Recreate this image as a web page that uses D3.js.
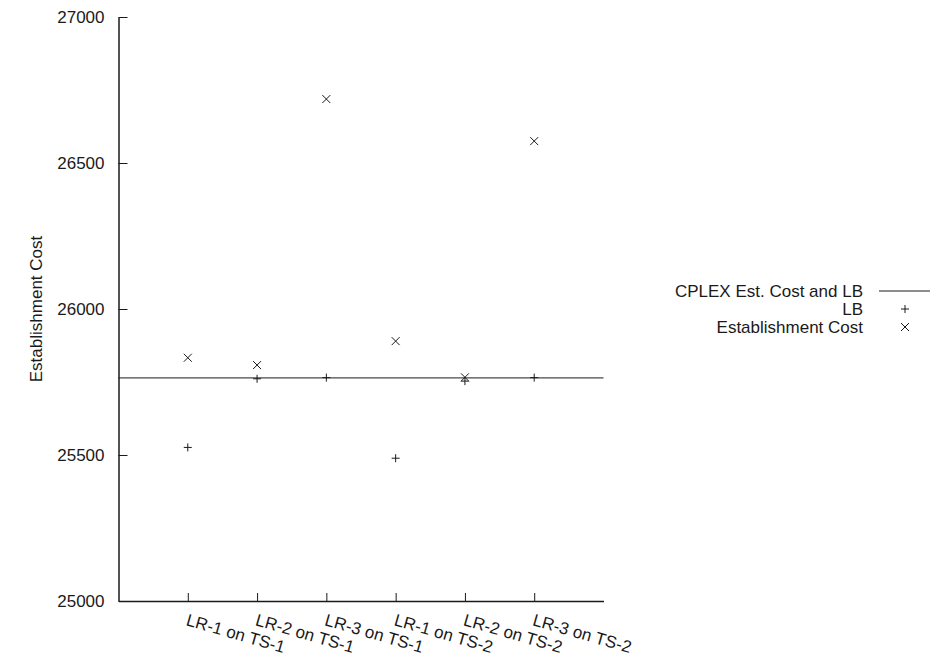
<!DOCTYPE html>
<html>
<head>
<meta charset="utf-8">
<script src="https://cdn.jsdelivr.net/npm/d3@7"></script>
<style>
  html, body { margin: 0; padding: 0; background: #fff; }
  svg { display: block; font-family: "Liberation Sans", Arial, Helvetica, sans-serif; }
</style>
</head>
<body>
<svg id="chart" width="932" height="662"></svg>
<script>
// Runs compared: each heuristic (LR-1..3) on each test set (TS-1, TS-2)
const categories = ["LR-1 on TS-1", "LR-2 on TS-1", "LR-3 on TS-1",
                    "LR-1 on TS-2", "LR-2 on TS-2", "LR-3 on TS-2"];
const lowerBound = [25526, 25761, 25765, 25489, 25753, 25765];
const establishmentCost = [25833, 25808, 26719, 25890, 25766, 26575];
const cplexCost = 25764;
const yTicks = [25000, 25500, 26000, 26500, 27000];
const legendLabels = ["CPLEX Est. Cost and LB", "LB", "Establishment Cost"];

const svg = d3.select("#chart");
const plotLeft = 118.5, plotRight = 603.5, plotTop = 17, plotBottom = 601;
const ink = "#1a1a1a";
const fontSize = 17;

const x = d3.scaleLinear().domain([0, categories.length + 1]).range([plotLeft, plotRight]);
const y = d3.scaleLinear().domain([25000, 27000]).range([plotBottom, plotTop]);

// Y axis: ticks point inward
const yAxis = svg.append("g").attr("transform", `translate(${plotLeft},0)`)
  .call(d3.axisLeft(y).tickValues(yTicks).tickSize(-9).tickSizeOuter(0).tickPadding(14).tickFormat(d3.format("d")));
yAxis.select(".domain").attr("stroke", ink).attr("stroke-width", 1.5);
yAxis.selectAll(".tick line").attr("stroke", ink);
yAxis.selectAll(".tick text").attr("font-size", fontSize).attr("fill", ink)
  .attr("font-family", "'Liberation Sans', Arial, sans-serif");

// X axis with slanted category labels
const xAxis = svg.append("g").attr("transform", `translate(0,${plotBottom})`)
  .call(d3.axisBottom(x).tickValues(d3.range(1, categories.length + 1))
    .tickSize(-8).tickSizeOuter(0).tickFormat(i => categories[i - 1]));
xAxis.select(".domain").attr("stroke", ink).attr("stroke-width", 1.5);
xAxis.selectAll(".tick line").attr("stroke", ink);
xAxis.selectAll(".tick text")
  .attr("font-size", fontSize).attr("fill", ink)
  .attr("font-family", "'Liberation Sans', Arial, sans-serif")
  .attr("text-anchor", "start")
  .attr("dy", null)
  .attr("y", 0)
  .attr("transform", "translate(-3,24) rotate(16)");

// Y axis title
svg.append("text")
  .attr("transform", `translate(42,${y(26000)}) rotate(-90)`)
  .attr("text-anchor", "middle")
  .attr("font-size", fontSize).attr("fill", ink)
  .text("Establishment Cost");

// CPLEX reference line
svg.append("line")
  .attr("x1", plotLeft).attr("x2", plotRight)
  .attr("y1", y(cplexCost)).attr("y2", y(cplexCost))
  .attr("stroke", ink).attr("stroke-width", 1);

const s = 4;
function plus(g, cx, cy) {
  g.append("path").attr("d", `M${cx - s},${cy}H${cx + s}M${cx},${cy - s}V${cy + s}`)
    .attr("stroke", ink).attr("stroke-width", 1).attr("fill", "none");
}
function cross(g, cx, cy) {
  g.append("path").attr("d", `M${cx - s},${cy - s}L${cx + s},${cy + s}M${cx - s},${cy + s}L${cx + s},${cy - s}`)
    .attr("stroke", ink).attr("stroke-width", 1).attr("fill", "none");
}

const marks = svg.append("g");
lowerBound.forEach((v, i) => plus(marks, x(i + 1), y(v)));
establishmentCost.forEach((v, i) => cross(marks, x(i + 1), y(v)));

// Legend
const lg = svg.append("g");
const lgTextX = 863, lgSymX = 905, lgY0 = 291, lgStep = 18;
legendLabels.forEach((t, i) => {
  lg.append("text").attr("x", lgTextX).attr("y", lgY0 + i * lgStep)
    .attr("dy", "0.35em").attr("text-anchor", "end")
    .attr("font-size", fontSize).attr("fill", ink).text(t);
});
lg.append("line").attr("x1", 879).attr("x2", 930)
  .attr("y1", lgY0).attr("y2", lgY0).attr("stroke", ink).attr("stroke-width", 1);
plus(lg, lgSymX, lgY0 + lgStep);
cross(lg, lgSymX, lgY0 + 2 * lgStep);
</script>
</body>
</html>
